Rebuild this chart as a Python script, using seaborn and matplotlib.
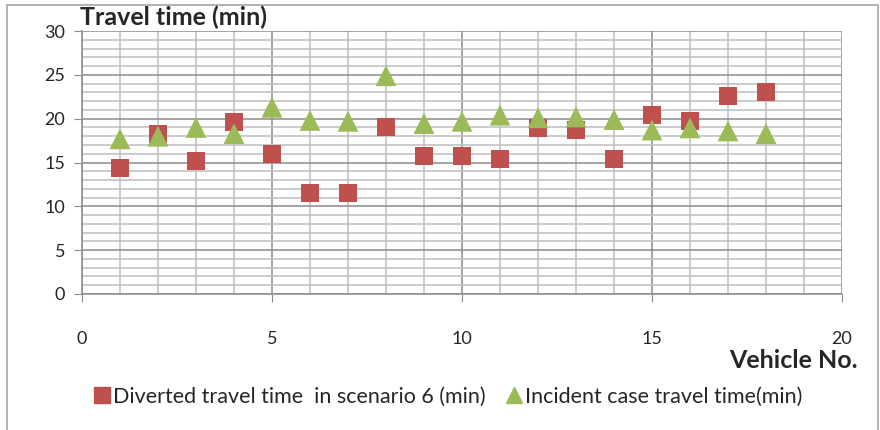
import numpy as np
import pandas as pd
import seaborn as sns
import matplotlib.pyplot as plt
from matplotlib.ticker import MultipleLocator
from matplotlib.lines import Line2D

vehicle = list(range(1, 19))
diverted = [14.4, 18.3, 15.2, 19.6, 16.0, 11.5, 11.5, 19.1, 15.7, 15.7,
            15.4, 18.95, 18.7, 15.4, 20.4, 19.75, 22.6, 23.0]
incident = [17.7, 18.0, 19.0, 18.3, 21.3, 19.8, 19.7, 24.9, 19.45, 19.7,
            20.4, 20.1, 20.2, 19.9, 18.7, 18.95, 18.6, 18.3]
lab_div = "Diverted travel time  in scenario 6 (min)"
lab_inc = "Incident case travel time(min)"

RED = "#C0504D"
GREEN = "#9BBB59"

sns.set_style("white")
plt.rcParams["font.family"] = ["Lato", "DejaVu Sans"]

fig = plt.figure(figsize=(8.8, 4.3), dpi=100)
ax = fig.add_axes([82 / 880, 1 - 294 / 430, 760 / 880, 263 / 430])

df = pd.DataFrame({"vehicle": vehicle, "diverted": diverted, "incident": incident})
sns.scatterplot(data=df, x="vehicle", y="diverted", marker="s", s=13 ** 2,
                color=RED, edgecolor="none", ax=ax, zorder=3, legend=False)
sns.scatterplot(data=df, x="vehicle", y="incident", marker="^", s=15 ** 2,
                color=GREEN, edgecolor="none", ax=ax, zorder=4, legend=False)

ax.set_xlim(0, 20)
ax.set_ylim(0, 30)
ax.xaxis.set_major_locator(MultipleLocator(5))
ax.xaxis.set_minor_locator(MultipleLocator(1))
ax.yaxis.set_major_locator(MultipleLocator(5))
ax.yaxis.set_minor_locator(MultipleLocator(1))
ax.grid(which="minor", color="#BFBFBF", lw=1.1, zorder=0)
ax.grid(which="major", color="#8C8C8C", lw=1.1, zorder=1)
ax.set_axisbelow(True)

for side in ["top", "right"]:
    ax.spines[side].set_visible(False)
for side in ["left", "bottom"]:
    ax.spines[side].set_color("#8C8C8C")
    ax.spines[side].set_linewidth(1.1)

ax.tick_params(axis="x", which="major", length=6, color="#8C8C8C", pad=21,
               labelsize=13, bottom=True)
ax.tick_params(axis="y", which="major", length=6, color="#8C8C8C", pad=6,
               labelsize=13, left=True)
ax.tick_params(which="minor", length=0)
ax.set_xlabel("")
ax.set_ylabel("")

fig.text(80 / 880, 1 - 17 / 430, "Travel time (min)", fontsize=18,
         fontweight="bold", va="center", ha="left")
fig.text(858 / 880, 1 - 361 / 430, "Vehicle No.", fontsize=18,
         fontweight="bold", va="center", ha="right")

handles = [
    Line2D([], [], marker="s", color=RED, ls="none", markersize=11),
    Line2D([], [], marker="^", color=GREEN, ls="none", markersize=12),
]
fig.legend(handles, [lab_div, lab_inc], loc="center", bbox_to_anchor=(449 / 880, 1 - 397 / 430),
           ncol=2, frameon=False, fontsize=15.5, handlelength=0.6, handletextpad=0.2,
           columnspacing=1.0)

# outer chart border
border = plt.Rectangle((7 / 880, -0.05), 871 / 880, 1 - 5 / 430 + 0.05,
                       transform=fig.transFigure, fill=False, ec="#A6A6A6", lw=1.2)
fig.patches.append(border)

fig.savefig("out.png", dpi=100)
